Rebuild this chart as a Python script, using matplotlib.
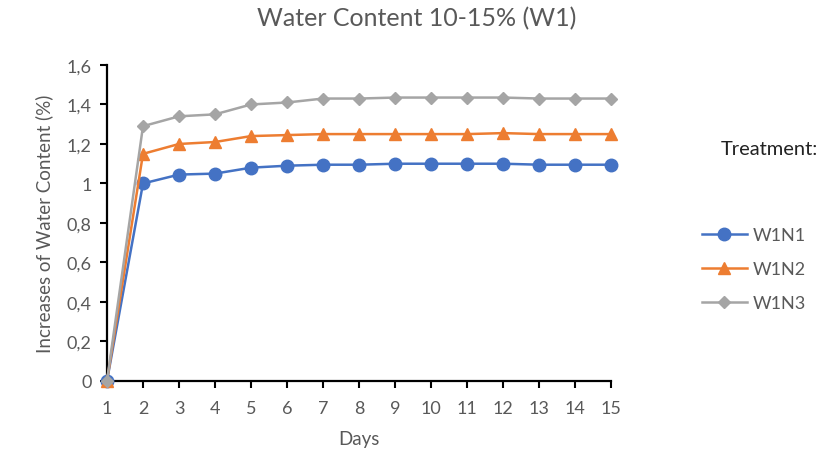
import matplotlib
matplotlib.use('Agg')
import matplotlib.pyplot as plt
from matplotlib.ticker import FuncFormatter

days = list(range(1, 16))
w1n1 = [0, 1.00, 1.045, 1.05, 1.08, 1.09, 1.095, 1.095, 1.10, 1.10, 1.10, 1.10, 1.095, 1.095, 1.095]
w1n2 = [0, 1.15, 1.20, 1.21, 1.24, 1.245, 1.25, 1.25, 1.25, 1.25, 1.25, 1.255, 1.25, 1.25, 1.25]
w1n3 = [0, 1.29, 1.34, 1.35, 1.40, 1.41, 1.43, 1.43, 1.435, 1.435, 1.435, 1.435, 1.43, 1.43, 1.43]
series_names = ['W1N1', 'W1N2', 'W1N3']

plt.rcParams['font.family'] = ['Lato', 'DejaVu Sans']
txt = '#595959'

fig = plt.figure(figsize=(8.26, 4.6), dpi=100)
ax = fig.add_axes([0.1295, 0.1696, 0.6107, 0.687])

styles = [('#4472C4', 'o', 9), ('#ED7D31', '^', 9), ('#A5A5A5', 'D', 6.5)]
for vals, name, (c, m, ms) in zip([w1n1, w1n2, w1n3], series_names, styles):
    ax.plot(days, vals, color=c, marker=m, markersize=ms, linewidth=1.8,
            label=name, clip_on=False, zorder=3)

ax.set_xlim(1, 15)
ax.set_ylim(0, 1.6)
ax.set_xticks(days)
ax.set_yticks([0, 0.2, 0.4, 0.6, 0.8, 1.0, 1.2, 1.4, 1.6])
ax.yaxis.set_major_formatter(FuncFormatter(lambda v, p: ('%g' % round(v, 1)).replace('.', ',')))

for s in ['top', 'right']:
    ax.spines[s].set_visible(False)
for s in ['left', 'bottom']:
    ax.spines[s].set_linewidth(1.6)
    ax.spines[s].set_color('black')
ax.tick_params(axis='both', direction='out', length=5, width=1.5, colors='black',
               labelcolor=txt, labelsize=13)
ax.tick_params(axis='x', pad=9)
ax.tick_params(axis='y', pad=6)

ax.set_xlabel('Days', fontsize=13.5, color=txt, labelpad=10)
ax.set_ylabel('Increases of Water Content (%)', fontsize=13.5, color=txt, labelpad=10)
fig.suptitle('Water Content 10-15% (W1)', x=0.505, y=0.985, fontsize=18, color=txt)

fig.text(0.99, 0.675, 'Treatment:', fontsize=14.5, color='#222222', ha='right', va='center')
fig.legend(loc='upper left', bbox_to_anchor=(0.83, 0.54), frameon=False,
           fontsize=13, labelcolor=txt, handlelength=2.5, labelspacing=1.0,
           handletextpad=0.3)

fig.savefig('out.png', dpi=100)
